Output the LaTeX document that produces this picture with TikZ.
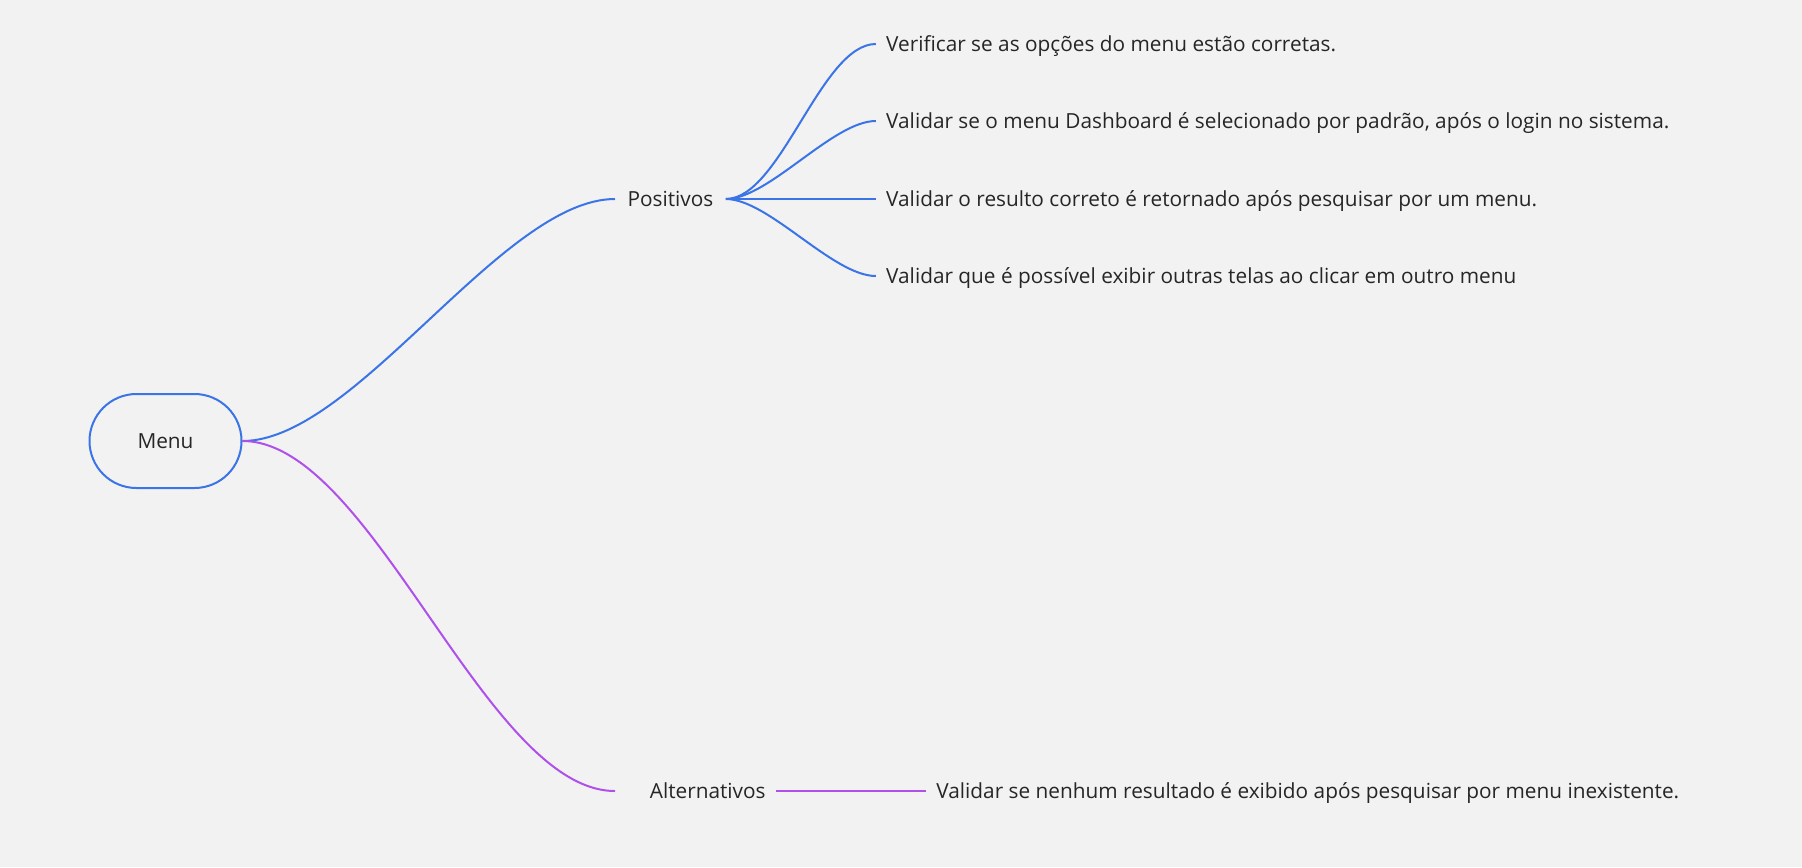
\documentclass[tikz,border=0pt]{standalone}
\usepackage{fontspec}
\setmainfont{Open Sans}
\usetikzlibrary{positioning}
\definecolor{bggray}{HTML}{F2F2F2}
\definecolor{posblue}{HTML}{3B74E6}
\definecolor{altpurple}{HTML}{B050EC}
\definecolor{inkgray}{HTML}{262626}
\tikzset{root/.style = {draw=posblue, line width=1pt, rectangle, rounded corners=23.5pt, minimum width=76pt, minimum height=47pt}}
\tikzset{topic/.style = {inner xsep=5pt, inner ysep=0pt, text height=7.4pt, text depth=0pt}}
\tikzset{leaf/.style = {inner xsep=5pt, inner ysep=0pt, text height=7.4pt, text depth=0pt}}
\tikzset{branch/.style = {out=0, in=180, looseness=0.65}}
\tikzset{poslink/.style = {draw=posblue, line width=1pt}}
\tikzset{altlink/.style = {draw=altpurple, line width=1pt}}

\begin{document}
\begin{tikzpicture}[x=0.5pt, y=-0.5pt, node distance=75pt, text=inkgray, font=\fontsize{10.4}{12.5}\selectfont]
  \useasboundingbox[fill=bggray] (0,0) rectangle (1802,867);

  \node [root] (menu) at (165.5,441) {Menu};
  \node [topic, minimum width=55pt, anchor=west] (pos) at (615,199) {Positivos};
  \node [topic, anchor=east] (alt) at (776,791) {Alternativos};
  \coordinate (altin) at (pos.west |- alt.west);

  \node [leaf, right=of pos, yshift=77.5pt] (pos1) {Verificar se as opções do menu estão corretas.};
  \node [leaf, right=of pos, yshift=39pt] (pos2) {Validar se o menu Dashboard é selecionado por padrão, após o login no sistema.};
  \node [leaf, right=of pos] (pos3) {Validar o resulto correto é retornado após pesquisar por um menu.};
  \node [leaf, right=of pos, yshift=-38.5pt] (pos4) {Validar que é possível exibir outras telas ao clicar em outro menu};
  \node [leaf, right=of alt] (alt1) {Validar se nenhum resultado é exibido após pesquisar por menu inexistente.};

  \path[poslink] (menu.east) edge [branch] (pos.west);
  \path[altlink] (menu.east) edge [branch] (altin);

  \path[poslink] (pos.east) edge [branch] (pos1.west);
  \path[poslink] (pos.east) edge [branch] (pos2.west);
  \path[poslink] (pos.east) edge [branch] (pos3.west);
  \path[poslink] (pos.east) edge [branch] (pos4.west);

  \path[altlink] (alt.east) edge [branch] (alt1.west);
\end{tikzpicture}
\end{document}
